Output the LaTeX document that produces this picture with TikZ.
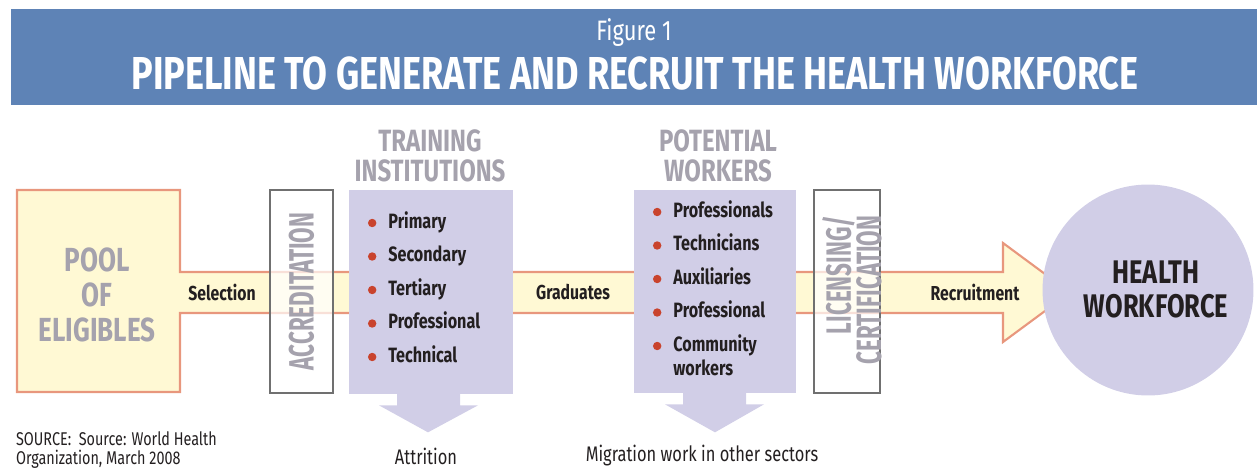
\documentclass[tikz,border=0pt]{standalone}
\usepackage{fontspec}
\setmainfont{Fira Sans}[FakeStretch=0.78]
\newfontfamily\gatefont{Fira Sans}[FakeStretch=0.64]
\usetikzlibrary{positioning}

\definecolor{headblue}{HTML}{5E83B6}
\definecolor{pipefill}{HTML}{FFF9D4}
\definecolor{pipeline}{HTML}{E8977D}
\definecolor{lavender}{HTML}{D1CEE7}
\definecolor{labgray}{HTML}{A5A2AD}
\definecolor{gateline}{HTML}{707070}
\definecolor{dotred}{HTML}{C9432D}
\definecolor{ink}{HTML}{231F20}

\tikzset{
  pipe/.style={fill=pipefill, draw=pipeline, line width=1.2pt},
  gate/.style={draw=gateline, line width=0.6pt, fill=white, fill opacity=0.7, inner sep=0pt},
  gatelabel/.style={rotate=90, text=labgray, align=right, font=\gatefont\bfseries\fontsize{20}{17.2}\selectfont},
  stage/.style={fill=lavender, inner sep=0pt},
  heading/.style={text=labgray, align=center, font=\bfseries\fontsize{17.5}{17}\selectfont},
  item/.style={anchor=west, text=ink, inner sep=0pt, text height=8.5pt, text depth=2.5pt, font=\bfseries\fontsize{11.8}{13.6}\selectfont},
  dot/.style={circle, fill=dotred, inner sep=0pt, minimum size=4.8pt},
  bandlabel/.style={text=ink, font=\bfseries\fontsize{11.5}{13}\selectfont},
  biglabel/.style={align=center, font=\bfseries\fontsize{19}{19.8}\selectfont},
  note/.style={text=ink, inner sep=1pt, font=\fontsize{12}{14}\selectfont}
}

\begin{document}
\begin{tikzpicture}[x=0.02cm, y=-0.02cm, >=latex]
\useasboundingbox (0,0) rectangle (1257,467);

% header
\fill[headblue] (11,9) rectangle (1257,105);
\node[text=white, font=\fontsize{16}{18}\selectfont] (fig) at (634,33) {Figure 1};
\node[text=white, font=\bfseries\fontsize{26.3}{28}\selectfont] (title) at (635,73) {PIPELINE TO GENERATE AND RECRUIT THE HEALTH WORKFORCE};

% pool of eligibles and the pipe
\draw[pipe] (17,190) -- (180,190) -- (180,272) -- (1003,272) -- (1003,243) -- (1070,292.5)
  -- (1003,342) -- (1003,313) -- (180,313) -- (180,392) -- (17,392) -- cycle;
\node[biglabel, text=labgray] (pool) at (97,295) {POOL\\OF\\ELIGIBLES};
\node[bandlabel] (sel) at (222,292) {Selection};
\node[bandlabel] (grad) at (573,292) {Graduates};
\node[bandlabel] (recr) at (975,292) {Recruitment};

% accreditation
\node[gate, minimum width=1.26cm, minimum height=4.06cm] (acc) at (301.5,291.5) {};
\node[gatelabel] (acctxt) at (acc) {ACCREDITATION};

% training institutions
\node[stage, minimum width=3.28cm, minimum height=4.08cm] (train) at (431,292) {};
\node[heading] (trhead) at (430,156) {TRAINING\\INSTITUTIONS};
\foreach \txt [count=\i] in {Primary,Secondary,Tertiary,Professional,Technical}{
  \node[item] (tr\i) at (388,{223+33.5*(\i-1)}) {\txt};
  \node[dot, left=6.4pt of tr\i] {};
}
\fill[lavender] (train.south) ++(-34,-1) -- ++(0,12) -- ++(-18,0) -- ++(49,27)
  -- ++(50,-27) -- ++(-18,0) -- ++(0,-12) -- cycle;

% potential workers
\node[stage, minimum width=3.24cm, minimum height=4.06cm] (work) at (715,291.5) {};
\node[heading] (wkhead) at (718,156) {POTENTIAL\\WORKERS};
\foreach \txt [count=\i] in {Professionals,Technicians,Auxiliaries,Professional,Community}{
  \node[item] (wk\i) at (673,{212+33.5*(\i-1)}) {\txt};
  \node[dot, left=6.4pt of wk\i] {};
}
\node[item] (wk6) at (673,370) {workers};
\fill[lavender] (work.south) ++(-32,-1) -- ++(0,12) -- ++(-18,0) -- ++(50,28)
  -- ++(49,-28) -- ++(-18,0) -- ++(0,-12) -- cycle;

% licensing
\node[gate, minimum width=1.32cm, minimum height=4.06cm] (lic) at (847,291.5) {};
\node[gatelabel] (lictxt) at (852,290) {LICENSING/\\CERTIFICATION};

% health workforce
\node[circle, fill=lavender, minimum size=4.22cm] (hw) at (1148,290) {};
\node[biglabel, text=ink, font=\bfseries\fontsize{18.6}{19.3}\selectfont] (hwtxt) at (1156,289) {HEALTH\\WORKFORCE};

% bottom notes
\node[note, anchor=west, align=left, font=\fontsize{10.5}{10.8}\selectfont] (src) at (14,450) {SOURCE:\ \ Source: World Health\\Organization, March 2008};
\node[note] (attr) at (426,456) {Attrition};
\node[note] (migr) at (702,456) {Migration work in other sectors};
\end{tikzpicture}
\end{document}
